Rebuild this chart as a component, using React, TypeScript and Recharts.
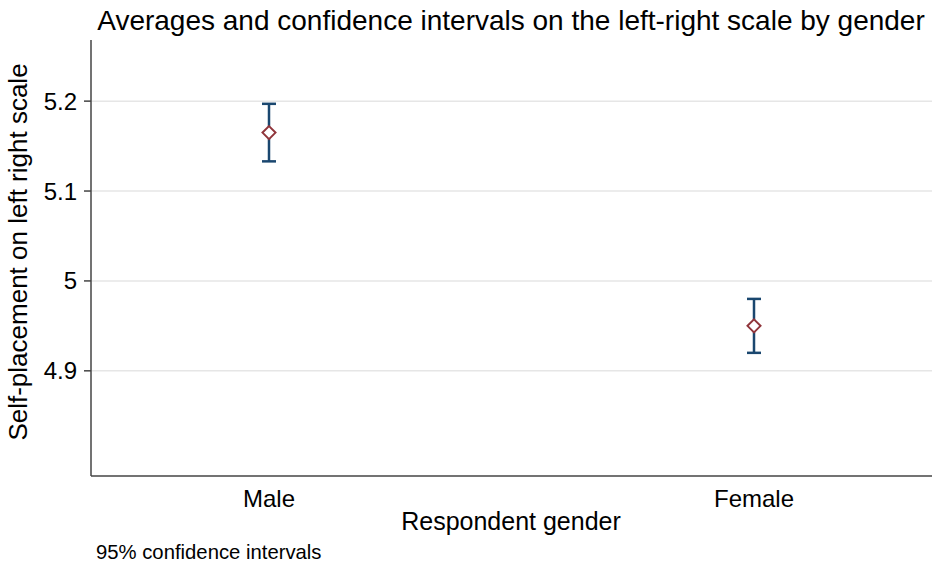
import React from 'react';
import { ScatterChart, Scatter, XAxis, YAxis, CartesianGrid, ErrorBar } from 'recharts';

const GENDERS = ['Male', 'Female'];
const MEANS = [5.165, 4.95];
const CI_LOW = [5.133, 4.92];
const CI_HIGH = [5.197, 4.98];
const Y_TICKS = [4.9, 5, 5.1, 5.2];

const NAVY = '#1a476f';
const MAROON = '#90353b';
const FONT = 'Liberation Sans, Arial, sans-serif';

// ErrorBar wants [below, above] distances from the mean
const points = GENDERS.map((g, i) => ({
  x: i + 1,
  mean: MEANS[i],
  ci: [MEANS[i] - CI_LOW[i], CI_HIGH[i] - MEANS[i]],
  label: g,
}));

const Diamond = (props: any) => {
  const { cx, cy } = props;
  const r = 6.5;
  return (
    <polygon
      points={`${cx},${cy - r} ${cx + r},${cy} ${cx},${cy + r} ${cx - r},${cy}`}
      fill="#ffffff"
      stroke={MAROON}
      strokeWidth={2}
    />
  );
};

const App: React.FC = () => {
  return (
    <div style={{ position: 'absolute', left: 0, top: 0, fontFamily: FONT }}>
      <ScatterChart width={934} height={564} margin={{ top: 40, right: 2, left: 0, bottom: 0 }}>
        <CartesianGrid
          vertical={false}
          horizontalValues={Y_TICKS}
          stroke="#e6e6e6"
          strokeWidth={1.5}
        />
        <XAxis
          type="number"
          dataKey="x"
          domain={[0.633, 2.367]}
          ticks={[1, 2]}
          tickFormatter={(v: number) => GENDERS[v - 1]}
          height={88}
          tickLine={false}
          tickMargin={8}
          axisLine={{ stroke: '#444', strokeWidth: 1.5 }}
          tick={{ fill: '#000', fontSize: 24, fontFamily: FONT }}
          allowDataOverflow
        />
        <YAxis
          type="number"
          dataKey="mean"
          domain={[4.783, 5.268]}
          ticks={Y_TICKS}
          tickFormatter={(v: number) => String(v)}
          width={91}
          tickSize={7}
          tickMargin={7}
          axisLine={{ stroke: '#444', strokeWidth: 1.5 }}
          tickLine={{ stroke: '#444', strokeWidth: 1.5 }}
          tick={{ fill: '#000', fontSize: 24, fontFamily: FONT }}
          allowDataOverflow
        />
        <Scatter data={points} shape={<Diamond />} isAnimationActive={false}>
          <ErrorBar
            dataKey="ci"
            direction="y"
            width={7}
            stroke={NAVY}
            strokeWidth={2.5}
            isAnimationActive={false}
          />
        </Scatter>
        <text x={511} y={30} textAnchor="middle" fontSize={28} fontFamily={FONT} fill="#000">
          Averages and confidence intervals on the left-right scale by gender
        </text>
        <text
          x={18}
          y={252}
          textAnchor="middle"
          fontSize={26}
          fontFamily={FONT}
          fill="#000"
          transform="rotate(-90 18 252)"
          dominantBaseline="central"
        >
          Self-placement on left right scale
        </text>
        <text x={511} y={530} textAnchor="middle" fontSize={25} fontFamily={FONT} fill="#000">
          Respondent gender
        </text>
        <text x={96} y={559} fontSize={20.3} fontFamily={FONT} fill="#000">
          95% confidence intervals
        </text>
      </ScatterChart>
    </div>
  );
};

export default App;
